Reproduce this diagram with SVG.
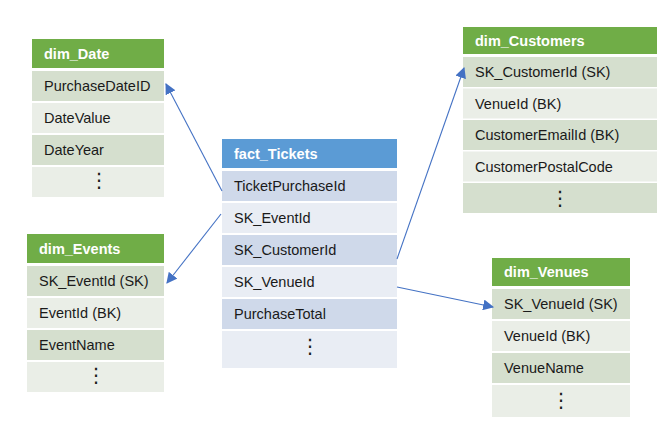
<svg xmlns="http://www.w3.org/2000/svg" width="668" height="433" viewBox="0 0 668 433">
<defs>
<style>
.hg{fill:#70AD47}
.hb{fill:#5B9BD5}
.gd{fill:#D5DFCE}
.gl{fill:#EAEEE7}
.bd{fill:#CFD9EA}
.bl{fill:#E9EDF4}
.ht{font-family:"Liberation Sans",Arial,sans-serif;font-size:14.5px;font-weight:bold;fill:#fff}
.t{font-family:"Liberation Sans",Arial,sans-serif;font-size:14.5px;fill:#1a1a1a}
.d{font-family:"DejaVu Sans",sans-serif;font-size:20px;fill:#1a1a1a;text-anchor:middle}
.c{stroke:#4472C4;stroke-width:1.1;fill:none;marker-end:url(#ah)}
</style>
<marker id="ah" viewBox="0 0 10 10" refX="9" refY="5" markerWidth="11" markerHeight="11" markerUnits="userSpaceOnUse" orient="auto">
<path d="M0,0 L10,5 L0,10 z" fill="#4472C4"/>
</marker>
</defs>
<rect width="668" height="433" fill="#fff"/>

<g id="dim_Date">
<rect class="hg" x="32" y="39" width="132" height="29"/>
<text class="ht" x="44" y="59">dim_Date</text>
<rect class="gd" x="32" y="71" width="132" height="30"/>
<text class="t" x="44" y="91">PurchaseDateID</text>
<rect class="gl" x="32" y="103" width="132" height="30"/>
<text class="t" x="44" y="123">DateValue</text>
<rect class="gd" x="32" y="135" width="132" height="30"/>
<text class="t" x="44" y="155">DateYear</text>
<rect class="gl" x="32" y="167" width="132" height="30"/>
<text class="d" x="99" y="187">⋮</text>
</g>

<g id="dim_Events">
<rect class="hg" x="27" y="234" width="137" height="29"/>
<text class="ht" x="39" y="254">dim_Events</text>
<rect class="gd" x="27" y="266" width="137" height="30"/>
<text class="t" x="39" y="286">SK_EventId (SK)</text>
<rect class="gl" x="27" y="298" width="137" height="30"/>
<text class="t" x="39" y="318">EventId (BK)</text>
<rect class="gd" x="27" y="330" width="137" height="30"/>
<text class="t" x="39" y="350">EventName</text>
<rect class="gl" x="27" y="362" width="137" height="30"/>
<text class="d" x="96" y="382">⋮</text>
</g>

<g id="fact_Tickets">
<rect class="hb" x="222" y="139" width="175" height="29"/>
<text class="ht" x="234" y="159">fact_Tickets</text>
<rect class="bd" x="222" y="171" width="175" height="30"/>
<text class="t" x="234" y="191">TicketPurchaseId</text>
<rect class="bl" x="222" y="203" width="175" height="30"/>
<text class="t" x="234" y="223">SK_EventId</text>
<rect class="bd" x="222" y="235" width="175" height="30"/>
<text class="t" x="234" y="255">SK_CustomerId</text>
<rect class="bl" x="222" y="267" width="175" height="30"/>
<text class="t" x="234" y="287">SK_VenueId</text>
<rect class="bd" x="222" y="299" width="175" height="30"/>
<text class="t" x="234" y="319">PurchaseTotal</text>
<rect class="bl" x="222" y="331" width="175" height="37"/>
<text class="d" x="310" y="353">⋮</text>
</g>

<g id="dim_Customers">
<rect class="hg" x="463" y="27" width="194" height="27"/>
<text class="ht" x="475" y="46">dim_Customers</text>
<rect class="gd" x="463" y="57" width="194" height="30"/>
<text class="t" x="475" y="77">SK_CustomerId (SK)</text>
<rect class="gl" x="463" y="88.5" width="194" height="30"/>
<text class="t" x="475" y="108.5">VenueId (BK)</text>
<rect class="gd" x="463" y="120" width="194" height="30"/>
<text class="t" x="475" y="140">CustomerEmailId (BK)</text>
<rect class="gl" x="463" y="151.5" width="194" height="30"/>
<text class="t" x="475" y="171.5">CustomerPostalCode</text>
<rect class="gd" x="463" y="183" width="194" height="30"/>
<text class="d" x="560" y="205">⋮</text>
</g>

<g id="dim_Venues">
<rect class="hg" x="492" y="258" width="138" height="28"/>
<text class="ht" x="504" y="277">dim_Venues</text>
<rect class="gd" x="492" y="289" width="138" height="30"/>
<text class="t" x="504" y="309">SK_VenueId (SK)</text>
<rect class="gl" x="492" y="321" width="138" height="30"/>
<text class="t" x="504" y="341">VenueId (BK)</text>
<rect class="gd" x="492" y="353" width="138" height="30"/>
<text class="t" x="504" y="373">VenueName</text>
<rect class="gl" x="492" y="385" width="138" height="32"/>
<text class="d" x="561" y="407">⋮</text>
</g>

<g id="connectors">
<line class="c" x1="222" y1="191" x2="166" y2="84"/>
<line class="c" x1="221" y1="214" x2="167" y2="283"/>
<line class="c" x1="397" y1="259" x2="464" y2="68"/>
<line class="c" x1="397" y1="287" x2="493" y2="307"/>
</g>
</svg>
